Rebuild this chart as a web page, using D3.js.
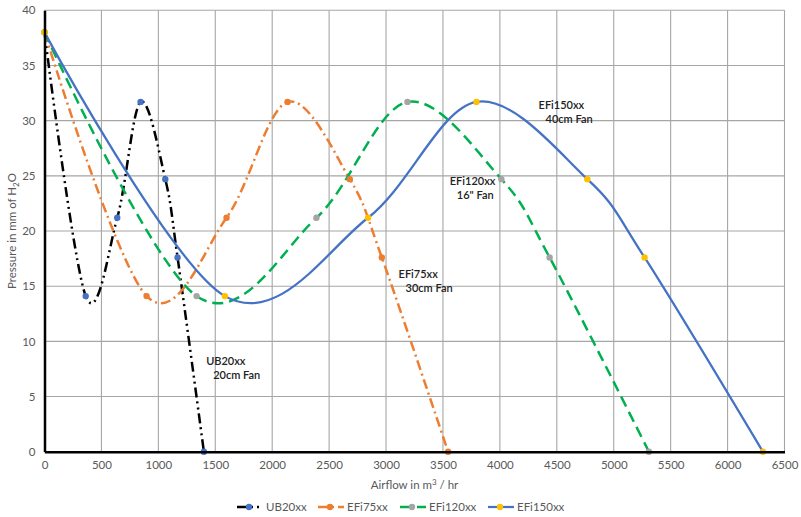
<!DOCTYPE html>
<html><head><meta charset="utf-8">
<script src="https://cdn.jsdelivr.net/npm/d3@7"></script>
<style>
body{margin:0;background:#fff;}
text{font-family:Lato,"Open Sans",sans-serif;}
</style></head>
<body><svg id="c" width="801" height="517"></svg>
<script>
const xTicks = [0,500,1000,1500,2000,2500,3000,3500,4000,4500,5000,5500,6000,6500];
const yTicks = [0,5,10,15,20,25,30,35,40];
const seriesNames = ["UB20xx","EFi75xx","EFi120xx","EFi150xx"];
const ub20X = [0,362,639,844,1061,1169,1400];
const ub20Y = [38,14.1,21.2,31.7,24.7,17.6,0];
const efi75X = [0,897,1599,2135,2682,2963,3545];
const efi75Y = [38,14.1,21.2,31.7,24.7,17.6,0];
const efi120X = [0,1336,2389,3188,4013,4437,5309];
const efi120Y = [38,14.1,21.2,31.7,24.7,17.6,0];
const efi150X = [0,1584,2842,3794,4768,5271,6310];
const efi150Y = [38,14.1,21.2,31.7,24.7,17.6,0];
const labels = [
  {name:"UB20xx", l1:"UB20xx", l2:"20cm Fan", x:1420, y:7.9},
  {name:"EFi75xx", l1:"EFi75xx", l2:"30cm Fan", x:3110, y:15.7},
  {name:"EFi120xx", l1:"EFi120xx", l2:"16\" Fan", x:3560, y:24.2},
  {name:"EFi150xx", l1:"EFi150xx", l2:"40cm Fan", x:4340, y:31.1}
];

const styles = {
  "UB20xx":{stroke:"#000000", dash:"10,4,2,4,2,4", w:2.5, marker:"#4472C4"},
  "EFi75xx":{stroke:"#ED7D31", dash:"10,4,2,4", w:2.5, marker:"#ED7D31"},
  "EFi120xx":{stroke:"#00B050", dash:"11,6", w:2.5, marker:"#A5A5A5"},
  "EFi150xx":{stroke:"#4472C4", dash:null, w:2.25, marker:"#FFC000"}
};
const series = [
  {name:"UB20xx", xs:ub20X, ys:ub20Y},
  {name:"EFi75xx", xs:efi75X, ys:efi75Y},
  {name:"EFi120xx", xs:efi120X, ys:efi120Y},
  {name:"EFi150xx", xs:efi150X, ys:efi150Y}
].map(s=>({name:s.name, pts:s.xs.map((x,i)=>({x, y:s.ys[i]}))}));

const svg = d3.select("#c");
const x = d3.scaleLinear().domain([0,6500]).range([44.5,784.5]);
const y = d3.scaleLinear().domain([0,40]).range([451.7,10.3]);

// gridlines
const g = svg.append("g");
g.selectAll(".vg").data(xTicks).join("line")
  .attr("x1",d=>x(d)).attr("x2",d=>x(d)).attr("y1",y(0)).attr("y2",y(40))
  .attr("stroke","#A6A6A6").attr("stroke-width",1.1);
g.selectAll(".hg").data(yTicks).join("line")
  .attr("y1",d=>y(d)).attr("y2",d=>y(d)).attr("x1",x(0)).attr("x2",x(6500))
  .attr("stroke","#A6A6A6").attr("stroke-width",1.1);

// axes
const xa = svg.append("g").attr("transform",`translate(0,${y(0)})`)
  .call(d3.axisBottom(x).tickValues(xTicks).tickSize(0).tickPadding(9).tickFormat(d3.format("d")));
const ya = svg.append("g").attr("transform",`translate(${x(0)},0)`)
  .call(d3.axisLeft(y).tickValues(yTicks).tickSize(0).tickPadding(9).tickFormat(d3.format("d")));
[xa,ya].forEach(a=>{
  a.select(".domain").attr("stroke","#000").attr("stroke-width",2.5);
  a.selectAll("text").attr("fill","#595959").attr("font-size",11.5).style("font-family","Lato");
});

// lines
const line = d3.line().x(d=>x(d.x)).y(d=>y(d.y)).curve(d3.curveCardinal.tension(0));
series.forEach(s=>{
  const st = styles[s.name];
  svg.append("path").datum(s.pts).attr("d",line)
    .attr("fill","none").attr("stroke",st.stroke).attr("stroke-width",st.w)
    .attr("stroke-dasharray",st.dash).attr("stroke-linejoin","round");
});
series.forEach(s=>{
  const st = styles[s.name];
  svg.append("g").selectAll("circle").data(s.pts).join("circle")
    .attr("cx",d=>x(d.x)).attr("cy",d=>y(d.y)).attr("r",3.2).attr("fill",st.marker);
});
[xa,ya].forEach(a=>a.raise());

// annotations
labels.forEach(l=>{
  const t = svg.append("text").attr("font-size",11).attr("fill","#222").attr("font-weight",600)
    .attr("x",x(l.x)).attr("y",y(l.y));
  t.append("tspan").text(l.l1);
  t.append("tspan").attr("x",x(l.x)+7).attr("dy",14).text(l.l2);
});

// axis titles
svg.append("text").attr("x",(x(0)+x(6500))/2).attr("y",489).attr("text-anchor","middle")
  .attr("font-size",11.5).attr("fill","#595959")
  .html('Airflow in m<tspan font-size="8" dy="-4">3</tspan><tspan dy="4"> / hr</tspan>');
svg.append("text").attr("transform",`translate(16,${(y(0)+y(40))/2}) rotate(-90)`)
  .attr("text-anchor","middle").attr("font-size",11.5).attr("fill","#595959")
  .html('Pressure in mm of H<tspan font-size="8" dy="3">2</tspan><tspan dy="-3">O</tspan>');

// legend
const legX = [237,318,400,488];
const lg = svg.append("g");
seriesNames.forEach((n,i)=>{
  const st = styles[n];
  const x0 = legX[i];
  lg.append("line").attr("x1",x0).attr("x2",x0+26).attr("y1",507).attr("y2",507)
    .attr("stroke",st.stroke).attr("stroke-width",st.w).attr("stroke-dasharray",st.dash);
  lg.append("circle").attr("cx",x0+12).attr("cy",507).attr("r",3.2).attr("fill",st.marker);
  lg.append("text").attr("x",x0+29).attr("y",511).attr("font-size",11.5).attr("fill","#595959").text(n);
});
</script></body></html>
